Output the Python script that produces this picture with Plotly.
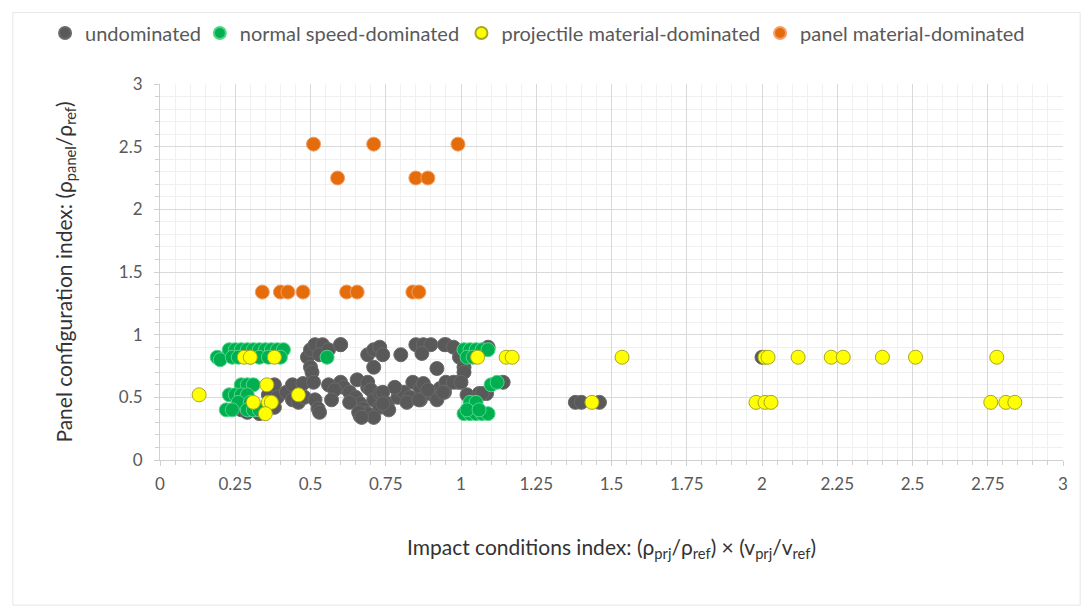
import plotly.graph_objects as go

# ---- data ----
undom_x = [0.27, 0.29, 0.31, 0.33, 0.36, 0.38, 0.39, 0.38, 0.42, 0.44, 0.44, 0.46, 0.475, 0.48,
           0.49, 0.50, 0.515, 0.54, 0.50, 0.505, 0.51, 0.515, 0.525, 0.53, 0.53, 0.56, 0.60, 0.60,
           0.61, 0.63, 0.65, 0.665, 0.675, 0.655, 0.69, 0.68, 0.665, 0.56, 0.58, 0.57,
           0.69, 0.71, 0.73, 0.74, 0.71, 0.80, 0.85, 0.875, 0.90, 0.87, 0.95, 0.92,
           0.69, 0.70, 0.71, 0.73, 0.73, 0.755, 0.76, 0.69, 0.71, 0.79, 0.81, 0.84, 0.865, 0.875,
           0.90, 0.93, 0.955, 0.99, 0.865, 0.83, 0.92, 0.945, 0.975, 0.995, 1.01, 1.01, 0.95,
           0.975, 1.0, 0.945, 1.02, 1.06, 1.085, 1.09, 1.14, 0.78, 0.74, 0.74, 0.82, 0.86, 0.92,
           0.89, 0.94, 1.07, 0.63, 0.66, 0.67, 0.60, 1.38, 1.40, 1.46, 2.0]
undom_y = [0.40, 0.38, 0.40, 0.37, 0.52, 0.60, 0.50, 0.42, 0.54, 0.48, 0.60, 0.46, 0.61, 0.50,
           0.82, 0.88, 0.92, 0.92, 0.74, 0.70, 0.62, 0.48, 0.41, 0.38, 0.84, 0.88, 0.92, 0.62,
           0.58, 0.54, 0.50, 0.45, 0.41, 0.64, 0.58, 0.37, 0.35, 0.60, 0.56, 0.48,
           0.84, 0.88, 0.90, 0.84, 0.74, 0.84, 0.92, 0.92, 0.92, 0.85, 0.92, 0.73,
           0.62, 0.56, 0.48, 0.53, 0.42, 0.45, 0.40, 0.37, 0.34, 0.50, 0.54, 0.62, 0.57, 0.61,
           0.53, 0.57, 0.61, 0.62, 0.48, 0.50, 0.50, 0.92, 0.90, 0.82, 0.74, 0.70, 0.62,
           0.62, 0.62, 0.54, 0.52, 0.53, 0.53, 0.90, 0.62, 0.58, 0.54, 0.45, 0.46, 0.48, 0.48,
           0.56, 0.54, 0.53, 0.46, 0.38, 0.34, 0.92, 0.46, 0.46, 0.46, 0.82]

speed_x = [0.19, 0.20, 0.23, 0.25, 0.27, 0.29, 0.31, 0.33, 0.35, 0.37, 0.39, 0.41,
           0.24, 0.26, 0.30, 0.33, 0.36, 0.40, 0.27, 0.29, 0.31, 0.23, 0.25, 0.27, 0.29,
           0.26, 0.30, 0.22, 0.24, 0.29, 0.31, 0.33, 0.555,
           1.01, 1.03, 1.05, 1.07, 1.09, 1.02, 1.04, 1.10, 1.12, 1.03, 1.05,
           1.01, 1.03, 1.05, 1.07, 1.09, 1.02, 1.06]
speed_y = [0.82, 0.80, 0.88, 0.88, 0.88, 0.88, 0.88, 0.88, 0.88, 0.88, 0.88, 0.88,
           0.82, 0.82, 0.82, 0.82, 0.82, 0.82, 0.60, 0.60, 0.60, 0.52, 0.52, 0.52, 0.52,
           0.46, 0.46, 0.40, 0.40, 0.40, 0.40, 0.40, 0.82,
           0.88, 0.88, 0.88, 0.88, 0.88, 0.82, 0.82, 0.60, 0.62, 0.46, 0.46,
           0.37, 0.37, 0.37, 0.37, 0.37, 0.40, 0.40]

proj_x = [0.13, 0.28, 0.30, 0.38, 0.355, 0.31, 0.36, 0.37, 0.35, 0.46,
          1.055, 1.15, 1.17, 1.435, 1.535,
          2.01, 2.02, 2.12, 2.23, 2.27, 2.40, 2.51, 2.78,
          1.98, 2.01, 2.03, 2.76, 2.81, 2.84]
proj_y = [0.52, 0.82, 0.82, 0.82, 0.60, 0.46, 0.46, 0.46, 0.37, 0.52,
          0.82, 0.82, 0.82, 0.46, 0.82,
          0.82, 0.82, 0.82, 0.82, 0.82, 0.82, 0.82, 0.82,
          0.46, 0.46, 0.46, 0.46, 0.46, 0.46]

panel_x = [0.51, 0.71, 0.99, 0.59, 0.85, 0.89,
           0.34, 0.40, 0.425, 0.475, 0.62, 0.655, 0.84, 0.86]
panel_y = [2.52, 2.52, 2.52, 2.25, 2.25, 2.25,
           1.34, 1.34, 1.34, 1.34, 1.34, 1.34, 1.34, 1.34]

series = [
    ("undominated", undom_x, undom_y, "#595959", "#6a6a6a"),
    ("normal speed-dominated", speed_x, speed_y, "#00B050", "#4fd68a"),
    ("projectile material-dominated", proj_x, proj_y, "#FFFF00", "#A8A820"),
    ("panel material-dominated", panel_x, panel_y, "#E46C0A", "#F3A06A"),
]
legend_ids = ["legend", "legend2", "legend3", "legend4"]
legend_left = [0.034, 0.176, 0.416, 0.690]

fig = go.Figure()
for (name, xs, ys, fill, edge), lid in zip(series, legend_ids):
    fig.add_trace(go.Scatter(
        x=xs, y=ys, mode="markers", name=name, legend=lid,
        marker=dict(size=14, color=fill, line=dict(color=edge, width=1)),
    ))

axis_common = dict(
    range=[0, 3], showgrid=True, gridcolor="#d9d9d9", gridwidth=1,
    zeroline=False, showline=True, linecolor="#d0d0d0", linewidth=1,
    tickfont=dict(family="Lato", size=17, color="#595959"),
    minor=dict(showgrid=True, gridcolor="#f0f0f0", gridwidth=1,
               ticks="outside", ticklen=4, tickcolor="#d0d0d0"),
    ticks="outside", ticklen=5, tickcolor="#d0d0d0",
)

fig.update_xaxes(**axis_common)
fig.update_xaxes(dtick=0.25, minor_dtick=0.05, ticklabelstandoff=4,
                 title=dict(text="Impact conditions index: (ρ<sub>prj</sub>/ρ<sub>ref</sub>) × (v<sub>prj</sub>/v<sub>ref</sub>)",
                            font=dict(family="Lato", size=21, color="#333333"), standoff=46))
fig.update_yaxes(**axis_common)
fig.update_yaxes(dtick=0.5, minor_dtick=0.1, ticklabelstandoff=8,
                 title=dict(text="Panel configuration index: (ρ<sub>panel</sub>/ρ<sub>ref</sub>)",
                            font=dict(family="Lato", size=21, color="#333333"), standoff=40))

fig.add_shape(type="rect", xref="paper", yref="paper",
              x0=-0.163, x1=1.019, y0=-0.386, y1=1.19,
              line=dict(color="#e6e6e6", width=1), layer="below")

legend_style = dict(orientation="h", xref="container", xanchor="left",
                    yref="container", y=0.959, yanchor="middle",
                    font=dict(family="Lato", size=20, color="#595959"),
                    itemsizing="constant", itemwidth=30, bgcolor="rgba(0,0,0,0)")
layout_legends = {lid: dict(legend_style, x=lx) for lid, lx in zip(legend_ids, legend_left)}

fig.update_layout(
    width=1090, height=610,
    paper_bgcolor="white", plot_bgcolor="white",
    margin=dict(l=152, r=35, t=76, b=158),
    showlegend=True,
    font=dict(family="Lato"),
    **layout_legends,
)

fig.write_html("out.html")
